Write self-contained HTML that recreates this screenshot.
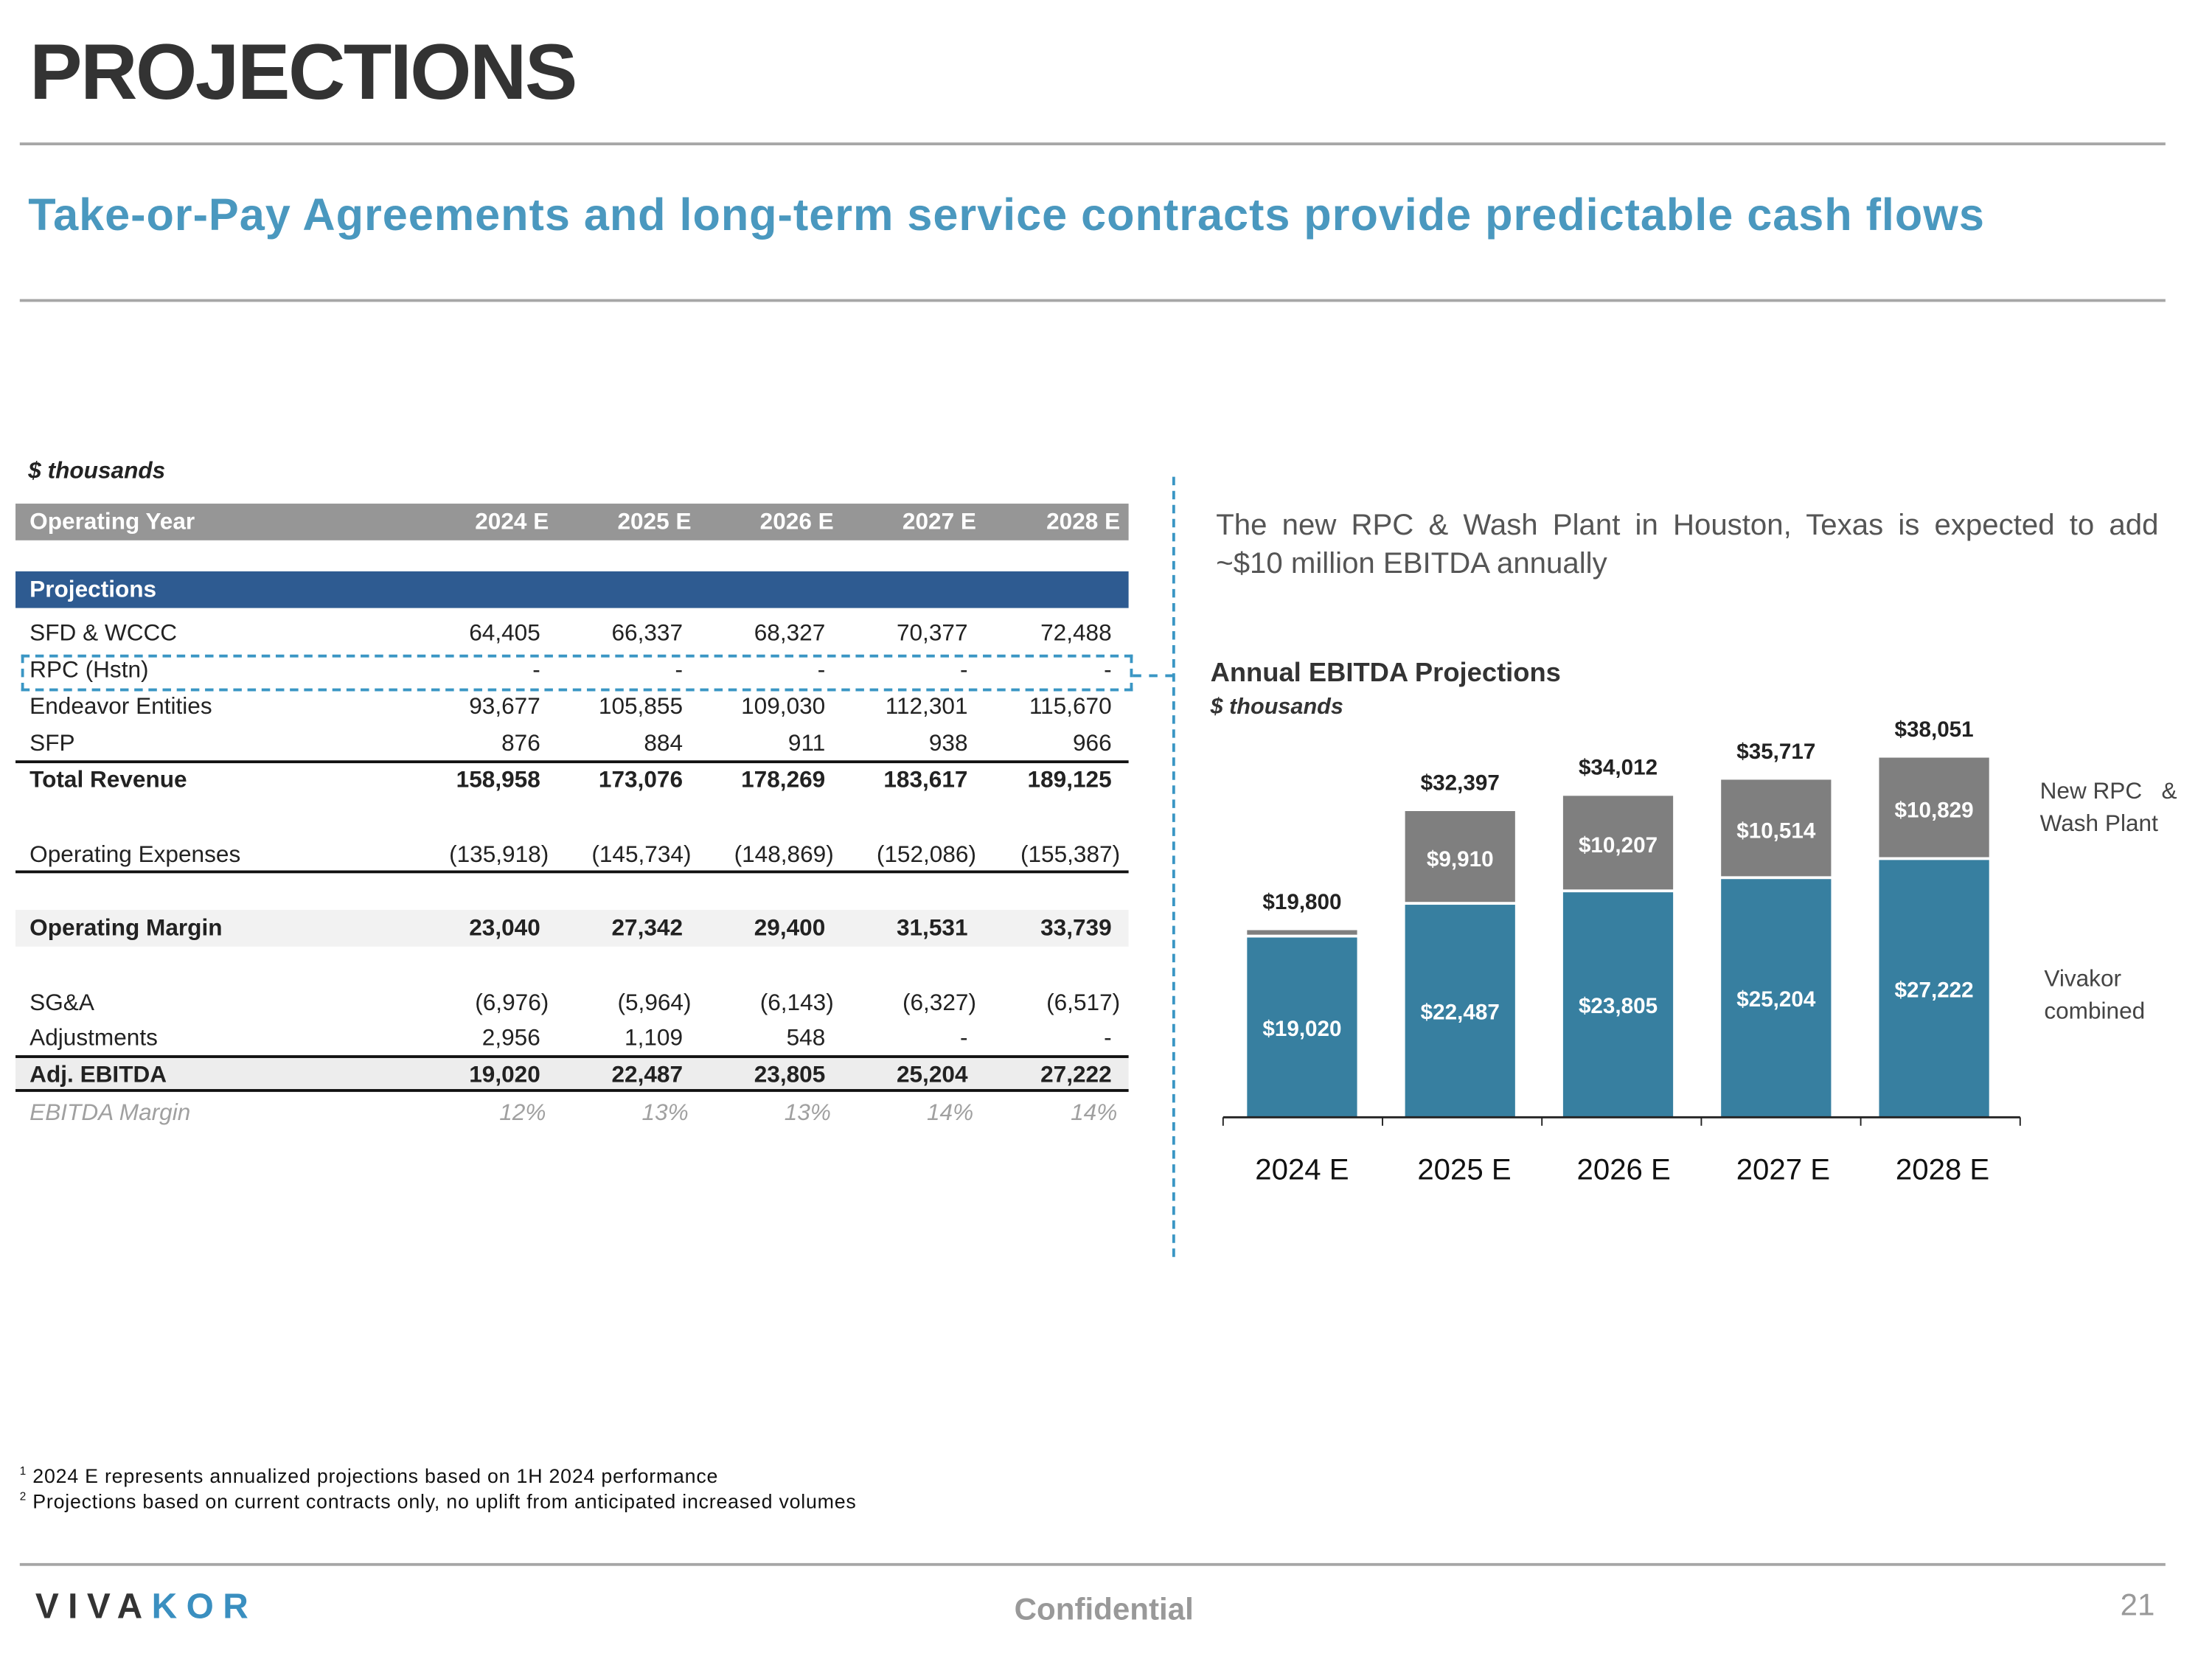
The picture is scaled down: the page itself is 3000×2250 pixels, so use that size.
<!DOCTYPE html>
<html><head><meta charset="utf-8">
<style>
html,body{margin:0;padding:0;background:#fff;}
body{width:3000px;height:2250px;overflow:hidden;position:relative;}
#page{position:absolute;left:0;top:0;width:1568px;height:1176px;transform:scale(1.91327);transform-origin:0 0;font-family:"Liberation Sans",sans-serif;}
.abs{position:absolute;white-space:nowrap;}
.hr{position:absolute;left:14px;width:1521px;height:1.5px;background:#a6a6a6;}
.row{position:absolute;left:11px;width:789px;height:26px;font-size:16.5px;color:#222;}
.row .lbl{position:absolute;left:10px;top:4px;}
.row .v{position:absolute;top:4px;text-align:right;width:90px;}
</style></head>
<body>
<div id="page">
  <div class="abs" style="left:21px;top:18px;font-size:56px;font-weight:bold;color:#333;letter-spacing:-1.3px;">PROJECTIONS</div>
  <div class="hr" style="top:101px;"></div>
  <div class="abs" style="left:20px;top:134px;font-size:32px;font-weight:bold;color:#4a98bf;letter-spacing:0.5px;">Take-or-Pay Agreements and long-term service contracts provide predictable cash flows</div>
  <div class="hr" style="top:212px;"></div>

  <div class="abs" style="left:20px;top:325px;font-size:16.5px;font-weight:bold;font-style:italic;color:#222;">$ thousands</div>
  <div id="table"></div>

  <div class="abs" style="left:15px;top:464px;width:784px;height:22px;border:2px dashed #3a96c4;"></div>
  <div class="abs" style="left:803px;top:478px;width:29px;height:0;border-top:2px dashed #3a96c4;"></div>
  <div class="abs" style="left:831px;top:338px;width:0;height:553px;border-left:2px dashed #3a96c4;"></div>

  <div class="abs" style="left:862px;top:359px;font-size:21px;color:#555;line-height:27px;"><span style="word-spacing:4.7px;">The new RPC &amp; Wash Plant in Houston, Texas is expected to add</span><br>~$10 million EBITDA annually</div>
  <div class="abs" style="left:858px;top:467px;font-size:19px;font-weight:bold;color:#333;">Annual EBITDA Projections</div>
  <div class="abs" style="left:858px;top:493px;font-size:16px;font-weight:bold;font-style:italic;color:#333;">$ thousands</div>

  <svg id="chart" style="position:absolute;left:0;top:0;" width="1568" height="1176" viewBox="0 0 1568 1176"></svg>

  <div class="abs" style="left:1446px;top:550px;font-size:16.5px;color:#444;line-height:23px;">New RPC &nbsp;&nbsp;&amp;<br>Wash Plant</div>
  <div class="abs" style="left:1449px;top:683px;font-size:16.5px;color:#444;line-height:23px;">Vivakor<br>combined</div>

  <div class="abs" style="left:14px;top:1038px;font-size:14px;letter-spacing:0.4px;color:#111;"><sup style="font-size:8px;">1</sup> 2024 E represents annualized projections based on 1H 2024 performance</div>
  <div class="abs" style="left:14px;top:1056px;font-size:14px;letter-spacing:0.4px;color:#111;"><sup style="font-size:8px;">2</sup> Projections based on current contracts only, no uplift from anticipated increased volumes</div>
  <div class="hr" style="top:1108px;height:2px;"></div>
  <div class="abs" style="left:25px;top:1125px;font-size:25px;font-weight:bold;letter-spacing:6.5px;color:#333;">VIVA<span style="color:#3a8fc0;">KOR</span></div>
  <div class="abs" style="left:719px;top:1128px;font-size:22px;font-weight:bold;color:#999;">Confidential</div>
  <div class="abs" style="left:1503px;top:1125px;font-size:22px;color:#999;">21</div>
</div>
<script>
// ---- table ----
var colRight=[383,484,585,686,788];
var tbl=document.getElementById('table');
function row(top,label,vals,opts){
  opts=opts||{};
  var r=document.createElement('div');
  
  
  r.className='row';
  r.style.top=top+'px';
  if(opts.bg) r.style.background=opts.bg;
  if(opts.color) r.style.color=opts.color;
  if(opts.bold) r.style.fontWeight='bold';
  if(opts.italic) r.style.fontStyle='italic';
  if(opts.top) r.style.borderTop=opts.top;
  if(opts.bottom) r.style.borderBottom=opts.bottom;
  r.style.boxSizing='border-box';
  var l=document.createElement('div');
  
  
  l.className='lbl';l.textContent=label;
  if(opts.top) l.style.top='3px';
  r.appendChild(l);
  for(var i=0;i<vals.length;i++){
    var v=document.createElement('div');
    
    
    v.className='v';
    var s=vals[i];var paren=s.charAt(s.length-1)===')';
    var right=colRight[i]+(paren?6:0)+(opts.shift||0);
    v.style.left=(right-11-90)+'px';
    if(opts.top) v.style.top='3px';
    v.textContent=s;
    r.appendChild(v);
  }
  tbl.appendChild(r);
}
row(357,'Operating Year',['2024 E','2025 E','2026 E','2027 E','2028 E'],{bg:'#969696',color:'#fff',bold:true,shift:6});
row(405,'Projections',[],{bg:'#2e5b91',color:'#fff',bold:true});
row(436,'SFD & WCCC',['64,405','66,337','68,327','70,377','72,488']);
row(462,'RPC (Hstn)',['-','-','-','-','-']);
row(488,'Endeavor Entities',['93,677','105,855','109,030','112,301','115,670']);
row(514,'SFP',['876','884','911','938','966']);
row(539,'Total Revenue',['158,958','173,076','178,269','183,617','189,125'],{bold:true,top:'2px solid #111'});
row(593,'Operating Expenses',['(135,918)','(145,734)','(148,869)','(152,086)','(155,387)'],{bottom:'2px solid #111'});
row(645,'Operating Margin',['23,040','27,342','29,400','31,531','33,739'],{bold:true,bg:'#f2f2f2'});
row(698,'SG&A',['(6,976)','(5,964)','(6,143)','(6,327)','(6,517)']);
row(723,'Adjustments',['2,956','1,109','548','-','-']);
row(748,'Adj. EBITDA',['19,020','22,487','23,805','25,204','27,222'],{bold:true,bg:'#ededed',top:'2px solid #111',bottom:'2px solid #111'});
row(776,'EBITDA Margin',['12%','13%','13%','14%','14%'],{italic:true,color:'#a0a0a0',shift:4});

// ---- chart data ----
var categories=['2024 E','2025 E','2026 E','2027 E','2028 E'];
var vivakorCombined=[19020,22487,23805,25204,27222];
var newRpcWash=[780,9910,10207,10514,10829];
var totalLabels=['$19,800','$32,397','$34,012','$35,717','$38,051'];
var totals=[19800,32397,34012,35717,38051];

var svg=document.getElementById('chart');
var NS='http://www.w3.org/2000/svg';
var baseY=792, pxPerUnit=6.70/1000;
var x0=867, x1=1432, band=112, firstCenter=923, barW=78;
function yScale(v){return baseY-v*pxPerUnit;}
function xCenter(i){return firstCenter+band*i;}
function mk(tag,attrs){var e=document.createElementNS(NS,tag);for(var k in attrs)e.setAttribute(k,attrs[k]);svg.appendChild(e);return e;}
function txt(x,y,s,size,fill,weight){var t=mk('text',{x:x,y:y,'text-anchor':'middle','font-size':size,fill:fill,'font-family':'Liberation Sans, sans-serif','font-weight':weight||'normal'});t.textContent=s;return t;}
for(var i=0;i<categories.length;i++){
  var cx=xCenter(i);
  var yb=yScale(vivakorCombined[i]);
  var b=mk('rect',{x:cx-barW/2,y:yb,width:barW,height:baseY-yb,fill:'#377fa0'});
  
  
  var yt=yScale(vivakorCombined[i]+newRpcWash[i]);
  var g=mk('rect',{x:cx-barW/2,y:yt,width:barW,height:Math.max(0,yb-yt-2),fill:'#7f7f7f'});
  
  
  var t1=txt(cx,(yb+baseY)/2+6,'$'+vivakorCombined[i].toLocaleString('en-US'),15.5,'#fff','bold');
  
  
  if(i>0){
    var t2=txt(cx,(yt+yb)/2+6,'$'+newRpcWash[i].toLocaleString('en-US'),15.5,'#fff','bold');
    
    
  }
  var t3=txt(cx,yScale(totals[i])-15,totalLabels[i],15.5,'#222','bold');
  
  
  var t4=txt(cx+ (i===0?0:2+i),836,categories[i],21,'#111');
  
  
}
var ax=mk('line',{x1:x0,y1:baseY,x2:x1,y2:baseY,stroke:'#222','stroke-width':1.5});


for(var j=0;j<=categories.length;j++){
  var tk=mk('line',{x1:x0+(x1-x0)/categories.length*j,y1:baseY,x2:x0+(x1-x0)/categories.length*j,y2:baseY+6,stroke:'#222','stroke-width':1});
  
  
}
</script>
</body></html>
